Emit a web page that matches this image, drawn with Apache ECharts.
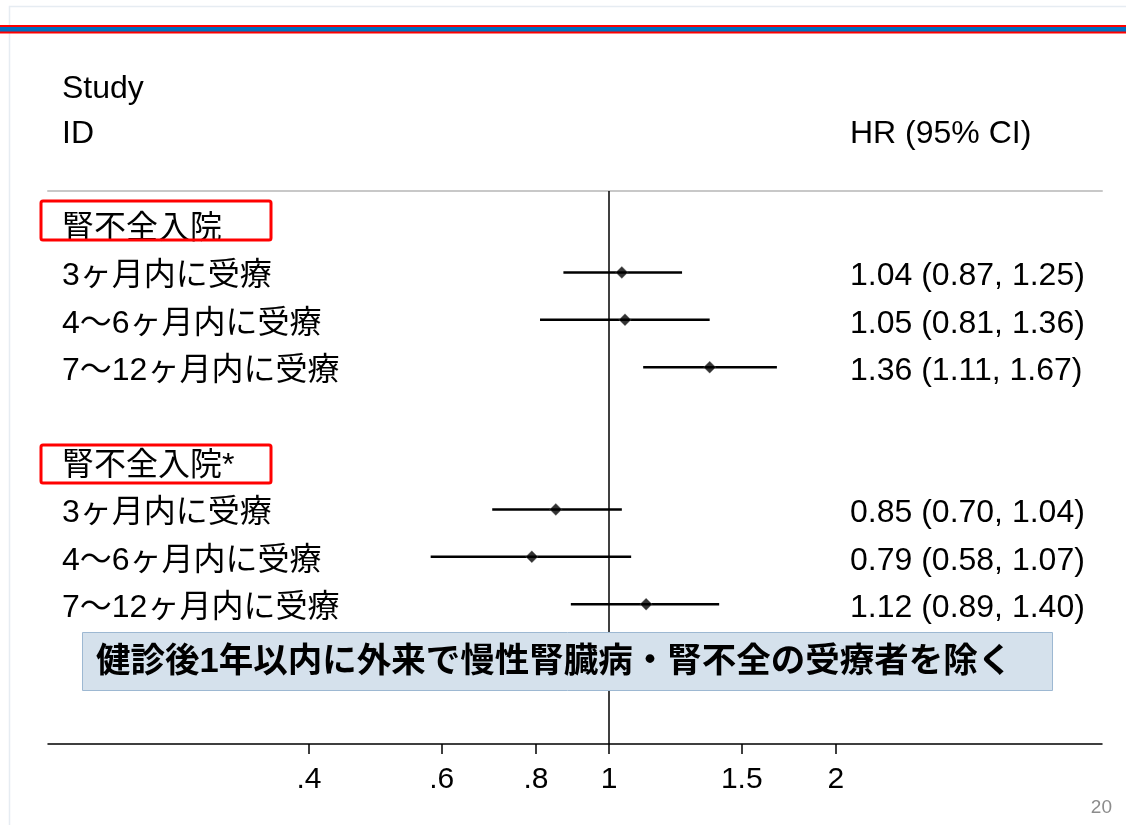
<!DOCTYPE html>
<html>
<head>
<meta charset="utf-8">
<script src="https://cdn.jsdelivr.net/npm/echarts@6/dist/echarts.min.js"></script>
<style>
  html, body { margin: 0; padding: 0; background: #fff; }
  #chart { width: 1126px; height: 825px; }
</style>
</head>
<body>
<div id="chart"></div>
<script>
// Forest plot: hazard ratios with 95% CI on a log scale
const groupTitles = ['腎不全入院', '腎不全入院*'];
const subgroupLabels = ['3ヶ月内に受療', '4～6ヶ月内に受療', '7～12ヶ月内に受療'];
const hrEst  = [1.04, 1.05, 1.36, 0.85, 0.79, 1.12];
const ciLow  = [0.87, 0.81, 1.11, 0.70, 0.58, 0.89];
const ciHigh = [1.25, 1.36, 1.67, 1.04, 1.07, 1.40];
const tickValues = [0.4, 0.6, 0.8, 1, 1.5, 2];
const tickLabels = ['.4', '.6', '.8', '1', '1.5', '2'];
const noteText = '健診後1年以内に外来で慢性腎臓病・腎不全の受療者を除く';

const FONT = "'Liberation Sans', 'Noto Sans CJK JP', sans-serif";
const ROWS_PER_GROUP = 5; // title row, three subgroups, blank spacer

// Row layout: group title row followed by its subgroup rows
const leftRowText = {};
const rightRowText = {};
const ciData = [];
const pointData = [];
groupTitles.forEach((title, g) => {
  const base = g * ROWS_PER_GROUP;
  leftRowText[base] = title;
  subgroupLabels.forEach((lab, i) => {
    const k = g * subgroupLabels.length + i;
    const row = base + 1 + i;
    leftRowText[row] = lab;
    rightRowText[row] = hrEst[k].toFixed(2) + ' (' + ciLow[k].toFixed(2) + ', ' + ciHigh[k].toFixed(2) + ')';
    ciData.push([Math.log(ciLow[k]), Math.log(ciHigh[k]), row]);
    pointData.push([Math.log(hrEst[k]), row]);
  });
});
const leftRows = Object.keys(leftRowText).map(Number);
const rightRows = Object.keys(rightRowText).map(Number);
const logTicks = tickValues.map(Math.log);

function tickLabelFor(v) {
  let best = 0;
  logTicks.forEach((t, i) => { if (Math.abs(t - v) < Math.abs(logTicks[best] - v)) best = i; });
  return tickLabels[best];
}

// row text sits a few pixels below the row's centre line
const rowTextStyle = { t: { fontFamily: FONT, fontSize: 32, color: '#000', padding: [8, 0, 0, 0] } };
const rowLabel = table => v => {
  const s = table[Math.round(v)];
  return s ? '{t|' + s + '}' : '';
};

const X_MIN = -1.7135, X_MAX = 1.5058;
const Y_MIN = -0.717, Y_MAX = 10.95;

const chart = echarts.init(document.getElementById('chart'), null, { renderer: 'canvas' });
chart.setOption({
  animation: false,
  backgroundColor: '#ffffff',
  grid: { left: 48, right: 24, top: 191, bottom: 81 },
  xAxis: [
    {
      type: 'value', min: X_MIN, max: X_MAX, position: 'bottom',
      splitLine: { show: false },
      axisLine: { show: true, onZero: false, lineStyle: { color: '#000', width: 1.5 } },
      axisTick: { show: true, length: 10, lineStyle: { color: '#000', width: 1.5 }, customValues: logTicks },
      axisLabel: {
        customValues: logTicks, formatter: tickLabelFor,
        fontFamily: FONT, fontSize: 30, color: '#000', margin: 21
      }
    },
    {
      type: 'value', min: X_MIN, max: X_MAX, position: 'top',
      splitLine: { show: false },
      axisLine: { show: true, onZero: false, lineStyle: { color: '#c8c8c8', width: 2 } },
      axisTick: { show: false }, axisLabel: { show: false }
    }
  ],
  yAxis: [
    {
      type: 'value', min: Y_MIN, max: Y_MAX, inverse: true, position: 'left',
      splitLine: { show: false }, axisLine: { show: false, onZero: false }, axisTick: { show: false },
      axisLabel: {
        inside: true, margin: 14, align: 'left',
        customValues: leftRows, formatter: rowLabel(leftRowText),
        fontFamily: FONT, fontSize: 32, color: '#000', rich: rowTextStyle
      }
    },
    {
      type: 'value', min: Y_MIN, max: Y_MAX, inverse: true, position: 'right',
      splitLine: { show: false }, axisLine: { show: false, onZero: false }, axisTick: { show: false },
      axisLabel: {
        inside: true, margin: 252, align: 'left',
        customValues: rightRows, formatter: rowLabel(rightRowText),
        fontFamily: FONT, fontSize: 32, color: '#000', rich: rowTextStyle
      }
    }
  ],
  series: [
    {
      name: 'CI',
      type: 'custom',
      xAxisIndex: 0, yAxisIndex: 0,
      data: ciData,
      encode: { x: [0, 1], y: 2 },
      renderItem(params, api) {
        const a = api.coord([api.value(0), api.value(2)]);
        const b = api.coord([api.value(1), api.value(2)]);
        return {
          type: 'line',
          shape: { x1: a[0], y1: a[1], x2: b[0], y2: b[1] },
          style: { stroke: '#000', lineWidth: 2.5 }
        };
      },
      markLine: {
        silent: true, symbol: 'none', label: { show: false },
        lineStyle: { color: '#000', type: 'solid', width: 1.5 },
        data: [{ xAxis: 0 }]
      }
    },
    {
      name: 'HR',
      type: 'scatter',
      xAxisIndex: 0, yAxisIndex: 0,
      data: pointData,
      symbol: 'diamond', symbolSize: 12,
      itemStyle: { color: '#000', borderColor: '#777', borderWidth: 0.5 }
    }
  ],
  graphic: [
    // slide frame and header stripes
    { type: 'rect', z: 1, shape: { x: 9.5, y: 6.5, width: 1200, height: 900 }, style: { fill: 'none', stroke: '#e6ecf2', lineWidth: 1.5 } },
    { type: 'rect', z: 1, shape: { x: 0, y: 25, width: 1126, height: 8.5 }, style: { fill: '#ff0000' } },
    { type: 'rect', z: 2, shape: { x: 0, y: 27, width: 1126, height: 4.5 }, style: { fill: '#0070c0' } },
    // column headers
    { type: 'text', z: 10, x: 62, y: 89, style: { text: 'Study', font: '32px ' + FONT, fill: '#000', verticalAlign: 'middle' } },
    { type: 'text', z: 10, x: 62, y: 134, style: { text: 'ID', font: '32px ' + FONT, fill: '#000', verticalAlign: 'middle' } },
    { type: 'text', z: 10, x: 850, y: 134, style: { text: 'HR (95% CI)', font: '32px ' + FONT, fill: '#000', verticalAlign: 'middle' } },
    // group highlight frames
    { type: 'rect', z: 10, shape: { x: 41, y: 201, width: 230, height: 39, r: 2 }, style: { fill: 'none', stroke: '#ff0000', lineWidth: 3 } },
    { type: 'rect', z: 10, shape: { x: 41, y: 445, width: 230, height: 38, r: 2 }, style: { fill: 'none', stroke: '#ff0000', lineWidth: 3 } },
    // exclusion note
    { type: 'rect', z: 100, shape: { x: 82.5, y: 632.5, width: 970, height: 58 }, style: { fill: '#d5e1ec', stroke: '#9db8d2', lineWidth: 1 } },
    { type: 'text', z: 101, x: 96, y: 662, style: { text: noteText, font: 'bold 34.5px ' + FONT, fill: '#000', verticalAlign: 'middle' } },
    // page number
    { type: 'text', z: 10, x: 1112, y: 808, style: { text: '20', font: '19px ' + FONT, fill: '#8c8c8c', align: 'right', verticalAlign: 'middle' } }
  ]
});
</script>
</body>
</html>
